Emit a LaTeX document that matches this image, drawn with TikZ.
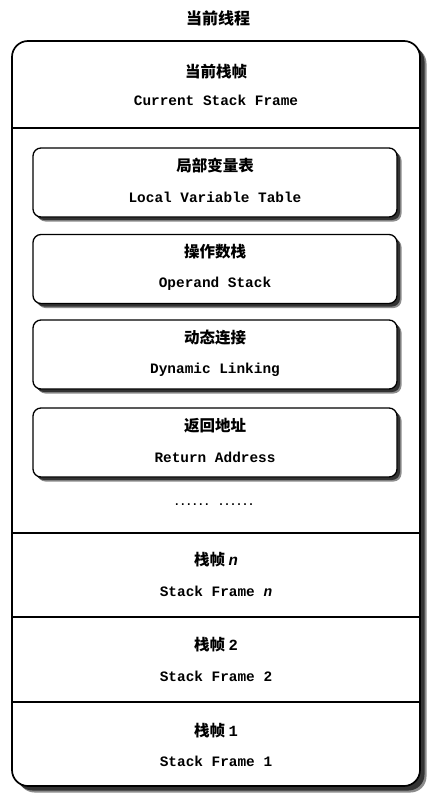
\documentclass[tikz,border=0pt]{standalone}
\usepackage{fontspec}
\setmonofont{Liberation Mono}
\newfontfamily\cjk{Noto Sans CJK SC}
\newfontfamily\dotfont{DejaVu Sans Mono}
\usetikzlibrary{calc}
\tikzset{
  zh/.style={font=\cjk\bfseries\fontsize{15.5}{18}\selectfont, inner sep=0pt},
  en/.style={font=\ttfamily\bfseries\fontsize{14.4}{16}\selectfont, inner sep=0pt},
  innerbox/.style={draw, line width=1.3pt, rounded corners=8pt, minimum width=364pt, minimum height=69pt, inner sep=0pt},
  divider/.style={line width=1.2pt}
}
\begin{document}
\begin{tikzpicture}[x=1pt,y=-1pt]
\useasboundingbox[fill=white] (0,0) rectangle (437,800);
% title
\node[zh, font=\cjk\bfseries\fontsize{16}{18}\selectfont] (title) at (218,18) {当前线程};
% outer shadow
\fill[black!45, rounded corners=16pt] (12+6.5,41+6.5) rectangle (420+6.5,786+6.5);
\fill[black!80, rounded corners=16pt] (12+4.5,41+4.5) rectangle (420+4.5,786+4.5);
\node[draw, fill=white, line width=1.7pt, rounded corners=16pt, minimum width=408pt, minimum height=745pt, inner sep=0pt] (outer) at (216,413.5) {};
% dividers
\foreach \yy/\nm in {128/d1,533/d2,617/d3,702/d4}{
  \coordinate (\nm l) at (12,\yy);
  \coordinate (\nm r) at (420,\yy);
  \draw[divider] (\nm l) -- (\nm r);
}
% current frame
\node[zh] (curzh) at (216,72) {当前栈帧};
\node[en] (curen) at (216,100) {Current Stack Frame};
% inner boxes
\foreach \cy/\nm/\zhtxt/\entxt in {182.5/lvt/局部变量表/Local Variable Table, 269/ops/操作数栈/Operand Stack, 354.5/dyn/动态连接/Dynamic Linking, 442.5/ret/返回地址/Return Address}{
  \fill[black!45, rounded corners=8pt] (33+4.5,\cy-34.5+4.5) rectangle (397+4.5,\cy+34.5+4.5);
  \fill[black!80, rounded corners=8pt] (33+3,\cy-34.5+3) rectangle (397+3,\cy+34.5+3);
  \node[innerbox, fill=white] (\nm) at (215,\cy) {};
  \node[zh] (\nm zh) at (215,\cy-17) {\zhtxt};
  \node[en] (\nm en) at (215,\cy+15) {\entxt};
}
\node[en, font=\dotfont\bfseries\fontsize{10}{12}\selectfont] (dots) at (214,505) {...... ......};
% stack frames
\node[zh] (fnzh) at (216,560) {栈帧 {\ttfamily\itshape n}};
\node[en] (fnen) at (216,591) {Stack Frame {\itshape n}};
\node[zh] (f2zh) at (216,645) {栈帧 {\ttfamily 2}};
\node[en] (f2en) at (216,676) {Stack Frame 2};
\node[zh] (f1zh) at (216,731) {栈帧 {\ttfamily 1}};
\node[en] (f1en) at (216,761) {Stack Frame 1};
\end{tikzpicture}
\end{document}
